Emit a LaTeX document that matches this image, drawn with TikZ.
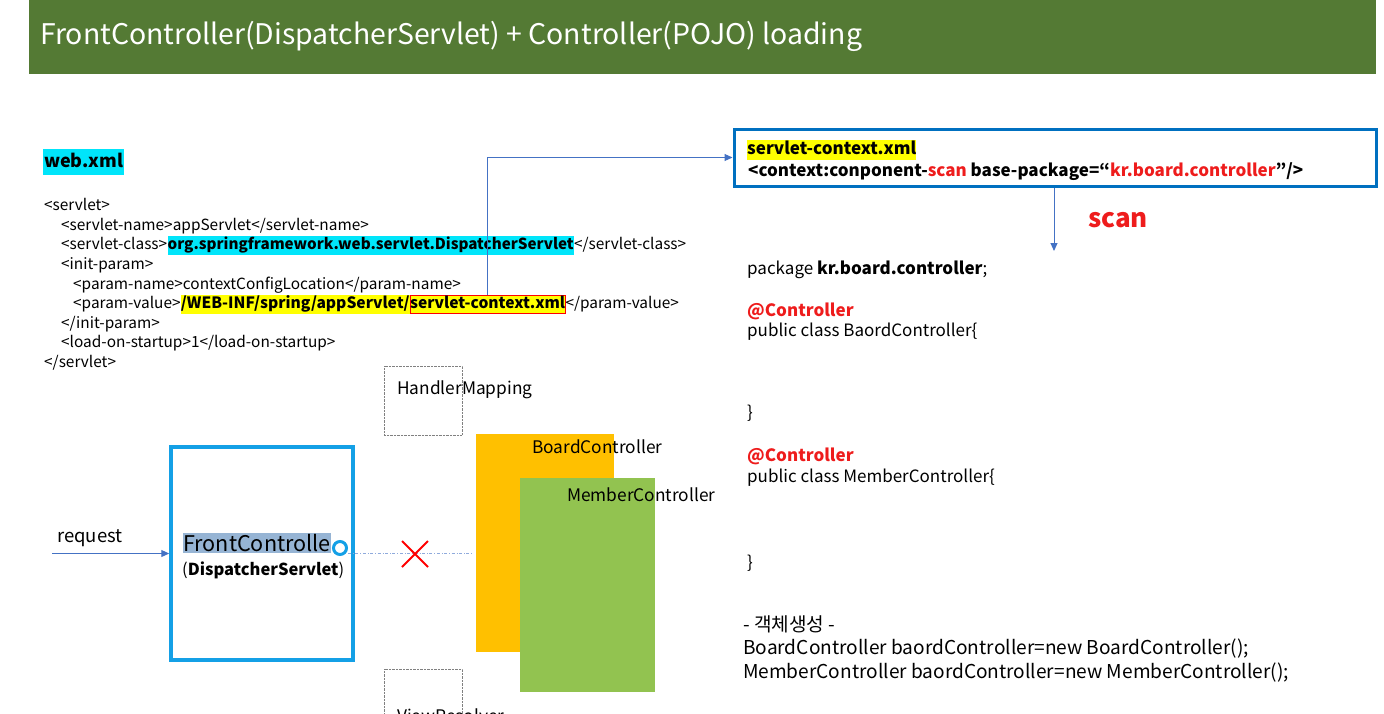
\documentclass[tikz,border=0pt]{standalone}
\usepackage{fontspec}
\setmainfont{Noto Sans CJK KR}
\usetikzlibrary{arrows.meta, positioning, shapes.misc}
\definecolor{titlegreen}{RGB}{84,122,52}
\definecolor{hlcyan}{RGB}{0,229,250}
\definecolor{hlyellow}{RGB}{255,255,0}
\definecolor{arrowblue}{RGB}{68,114,196}
\definecolor{ctxblue}{RGB}{0,112,192}
\definecolor{fcblue}{RGB}{20,160,230}
\definecolor{fchl}{RGB}{150,180,212}
\definecolor{boardorange}{RGB}{255,192,0}
\definecolor{membergreen}{RGB}{146,195,80}
\definecolor{annored}{RGB}{238,28,28}
\newcommand{\red}[1]{\textcolor{annored}{#1}}

\begin{document}
\begin{tikzpicture}[x=1pt, y=-1pt,
  codeline/.style={anchor=base west, inner xsep=0pt, inner ysep=2pt, text height=11pt, text depth=3.5pt,
                   font=\fontsize{15.4}{18}\selectfont},
  javaline/.style={anchor=base west, inner sep=0pt, font=\fontsize{17}{20}\selectfont},
  newline/.style={anchor=base west, inner sep=0pt, font=\fontsize{19.1}{22}\selectfont},
  ctxline/.style={anchor=base west, inner xsep=0pt, inner ysep=2pt, text height=12pt, text depth=4pt,
                  font=\fontsize{17}{20}\selectfont\bfseries},
  dotbox/.style={draw=gray, densely dotted, minimum width=78pt, minimum height=69pt, inner sep=0pt},
  ctrlbox/.style={inner sep=0pt},
  ctrllabel/.style={anchor=west, inner sep=0pt, font=\fontsize{17.3}{20}\selectfont},
  arr/.style={-{Triangle[length=8pt, width=7pt]}, line width=1pt, draw=arrowblue}
]
\useasboundingbox (0,0) rectangle (1384,713);

% title bar
\node[fill=titlegreen, minimum width=1347pt, minimum height=74pt, inner sep=0pt] (bar) at (702.5,37) {};
\node[anchor=west, text=white, inner sep=0pt, font=\fontsize{28.4}{32}\selectfont] (title) at (40,36)
  {FrontController(DispatcherServlet) + Controller(POJO) loading};

% web.xml
\node[anchor=base west, fill=hlcyan, inner xsep=1pt, inner ysep=0pt, text height=18pt, text depth=8pt,
      font=\fontsize{18}{22}\selectfont\bfseries] (webxml) at (43,167) {web.xml};
\node[codeline] (l1) at (44,210) {<servlet>};
\node[codeline] (l2) at (61,230) {<servlet-name>appServlet</servlet-name>};
\node[codeline] (l3) at (61,249) {<servlet-class>};
\node[codeline, fill=hlcyan, font=\fontsize{15.2}{18}\selectfont\bfseries] (dsclass) at (l3.base east) {org.springframework.web.servlet.DispatcherServlet};
\node[codeline] (l3b) at (dsclass.base east) {</servlet-class>};
\node[codeline] (l4) at (61,269) {<init-param>};
\node[codeline] (l5) at (73,289) {<param-name>contextConfigLocation</param-name>};
\node[codeline] (l6) at (73,308) {<param-value>};
\node[codeline, fill=hlyellow, font=\fontsize{15.6}{18}\selectfont\bfseries] (ctxpath) at (l6.base east) {/WEB-INF/spring/appServlet/};
\node[codeline, fill=hlyellow, draw=red, font=\fontsize{15.6}{18}\selectfont\bfseries] (ctxfile) at (ctxpath.base east) {servlet-context.xml};
\node[codeline] (l6b) at (ctxfile.base east) {</param-value>};
\node[codeline] (l7) at (61,328) {</init-param>};
\node[codeline] (l8) at (61,347) {<load-on-startup>1</load-on-startup>};
\node[codeline] (l9) at (44,367) {</servlet>};

% servlet-context.xml
\node[draw=ctxblue, line width=3pt, minimum width=642pt, minimum height=57pt, inner sep=0pt] (ctxbox) at (1055,157.5) {};
\node[ctxline, fill=hlyellow] (ctxname) at (747,154) {servlet-context.xml};
\node[ctxline] (ctxscan) at (748,176) {<context:conponent-\red{scan} base-package=“\red{kr.board.controller}”/>};
\draw[arr] (ctxfile.north) |- (ctxbox.west);
\coordinate (scanend) at (1054,251);
\draw[arr] (ctxbox.south -| scanend) -- (scanend);
\node[anchor=west, inner sep=0pt, text=annored, font=\fontsize{26}{30}\selectfont\bfseries] (scan) at (1088,220) {scan};

% scanned package
\node[javaline] (pkg) at (747,274) {package \textbf{kr.board.controller};};
\node[javaline, text=annored, font=\fontsize{17}{20}\selectfont\bfseries] (ann1) at (747,316) {@Controller};
\node[javaline] (cls1) at (747,336) {public class BaordController\{};
\node[javaline] (end1) at (747,418) {\}};
\node[javaline, text=annored, font=\fontsize{17}{20}\selectfont\bfseries] (ann2) at (747,461) {@Controller};
\node[javaline] (cls2) at (747,482) {public class MemberController\{};
\node[javaline] (end2) at (747,568) {\}};
\node[newline] (mk0) at (743,631) {- 객체생성 -};
\node[newline] (mk1) at (743,654) {BoardController baordController=new BoardController();};
\node[newline] (mk2) at (743,678) {MemberController baordController=new MemberController();};

% handler mapping / view resolver
\node[dotbox] (hm) at (423,400.5) {};
\node[ctrllabel] (hmlabel) at (397,390) {HandlerMapping};
\node[dotbox] (vr) at (423,703.5) {};
\node[ctrllabel] (vrlabel) at (397,716) {ViewResolver};

% controllers
\node[ctrlbox, fill=boardorange, minimum width=138pt, minimum height=218pt] (board) at (545,543) {};
\node[ctrllabel] (boardlabel) at (532,447) {BoardController};
\node[ctrlbox, fill=membergreen, minimum width=135pt, minimum height=214pt] (member) at (587.5,585) {};
\node[ctrllabel] (memberlabel) at (567,495) {MemberController};

% front controller
\node[draw=fcblue, line width=3.5pt, minimum width=182pt, minimum height=213pt, inner sep=0pt] (fc) at (262,553.5) {};
\node[anchor=west, fill=fchl, inner xsep=0pt, inner ysep=1pt, font=\fontsize{21.6}{25}\selectfont] (fcname) at (183,543) {FrontControlle};
\node[anchor=base west, inner sep=0pt, font=\fontsize{16.5}{20}\selectfont] (fcsub) at (182,575) {(\textbf{DispatcherServlet})};
\node[circle, draw=fcblue, line width=3pt, fill=white, minimum size=13pt, inner sep=0pt] (fcdot) at (340,548) {};
\coordinate (reqin) at (52,553.5);
\draw[arr] (reqin) -- (fc.west);
\node[anchor=west, inner sep=0pt, font=\fontsize{18.5}{22}\selectfont] (request) at (57,538) {request};
\draw[draw=arrowblue!60, dash dot, line width=0.8pt] (fcdot.east |- fc.east) -- ([xshift=-4pt]board.west |- fc.east);
\node[cross out, draw=red, line width=2pt, minimum size=24pt, inner sep=0pt] (noload) at (415,554) {};
\end{tikzpicture}
\end{document}
